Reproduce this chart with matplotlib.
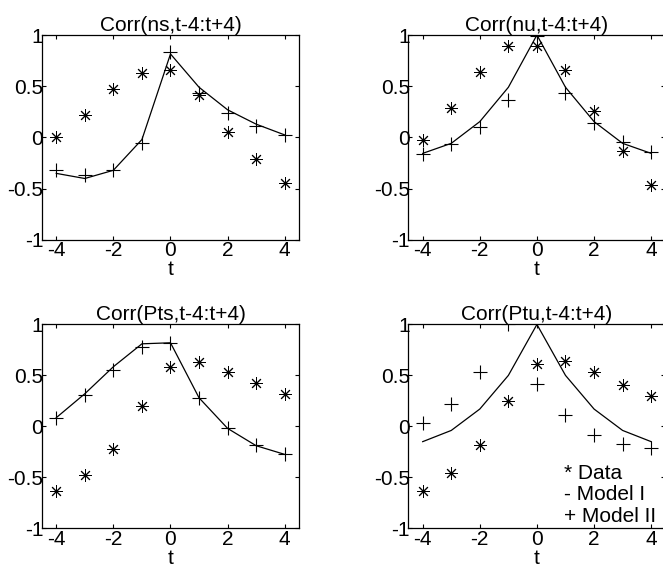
import matplotlib.pyplot as plt
import numpy as np

plt.rcParams['font.family'] = ['Liberation Sans', 'DejaVu Sans']

t = [-4, -3, -2, -1, 0, 1, 2, 3, 4]

# Corr(ns, t-4:t+4)
ns_data = [0.0, 0.22, 0.47, 0.63, 0.66, 0.415, 0.05, -0.21, -0.44]
ns_m1 = [-0.35, -0.40, -0.32, -0.02, 0.815, 0.49, 0.27, 0.13, 0.025]
ns_m2 = [-0.32, -0.37, -0.32, -0.05, 0.83, 0.43, 0.24, 0.11, 0.025]

# Corr(nu, t-4:t+4)
nu_data = [-0.02, 0.29, 0.64, 0.89, 0.89, 0.66, 0.26, -0.13, -0.46]
nu_m1 = [-0.155, -0.057, 0.155, 0.49, 1.0, 0.49, 0.155, -0.057, -0.155]
nu_m2 = [-0.16, -0.06, 0.10, 0.37, 0.99, 0.43, 0.145, -0.04, -0.14]

# Corr(Pts, t-4:t+4)
pts_data = [-0.63, -0.48, -0.22, 0.20, 0.585, 0.63, 0.53, 0.43, 0.32]
pts_m1 = [0.085, 0.32, 0.585, 0.81, 0.82, 0.28, -0.02, -0.19, -0.275]
pts_m2 = [0.085, 0.31, 0.55, 0.78, 0.82, 0.28, -0.02, -0.18, -0.275]

# Corr(Ptu, t-4:t+4)
ptu_data = [-0.63, -0.46, -0.18, 0.25, 0.61, 0.64, 0.53, 0.41, 0.30]
ptu_m1 = [-0.15, -0.04, 0.17, 0.50, 1.0, 0.50, 0.17, -0.04, -0.15]
ptu_m2 = [0.03, 0.22, 0.53, 1.0, 0.415, 0.11, -0.085, -0.175, -0.215]

titles = ["Corr(ns,t-4:t+4)", "Corr(nu,t-4:t+4)",
          "Corr(Pts,t-4:t+4)", "Corr(Ptu,t-4:t+4)"]
series = [(ns_data, ns_m1, ns_m2), (nu_data, nu_m1, nu_m2),
          (pts_data, pts_m1, pts_m2), (ptu_data, ptu_m1, ptu_m2)]

# axes boxes in figure fractions [left, bottom, width, height]
boxes = [[0.0633, 0.5797, 0.3877, 0.359],
         [0.616, 0.5797, 0.3877, 0.359],
         [0.0633, 0.0748, 0.3877, 0.357],
         [0.616, 0.0748, 0.3877, 0.357]]

asterisk = (8, 2, 0)
fs = 15

fig = plt.figure(figsize=(6.63, 5.71), dpi=100)

for i in range(4):
    ax = fig.add_axes(boxes[i])
    d, m1, m2 = series[i]
    ax.plot(t, m1, color='k', linewidth=0.9)
    ax.plot(t, d, linestyle='none', marker=asterisk, color='k',
            markersize=9, markeredgewidth=0.7)
    ax.plot(t, m2, linestyle='none', marker='+', color='k',
            markersize=10, markeredgewidth=0.8)
    ax.set_xlim(-4.5, 4.5)
    ax.set_ylim(-1, 1)
    ax.set_xticks([-4, -2, 0, 2, 4])
    ax.set_xticklabels(['-4', '-2', '0', '2', '4'])
    ax.set_yticks([-1, -0.5, 0, 0.5, 1])
    ax.set_yticklabels(['-1', '-0.5', '0', '0.5', '1'])
    ax.tick_params(direction='in', top=True, right=True, length=3,
                   width=0.8, labelsize=fs, pad=1)
    ax.tick_params(axis='y', pad=-1)
    for s in ax.spines.values():
        s.set_linewidth(0.9)
    ax.set_title(titles[i], fontsize=fs, pad=3)
    ax.set_xlabel('t', fontsize=fs, labelpad=0)

    if i == 3:
        ax.text(0.95, -0.46, '* Data', fontsize=fs, va='center')
        ax.text(0.95, -0.67, '- Model I', fontsize=fs, va='center')
        ax.text(0.95, -0.88, '+ Model II', fontsize=fs, va='center')

fig.savefig('out.png', dpi=100)
